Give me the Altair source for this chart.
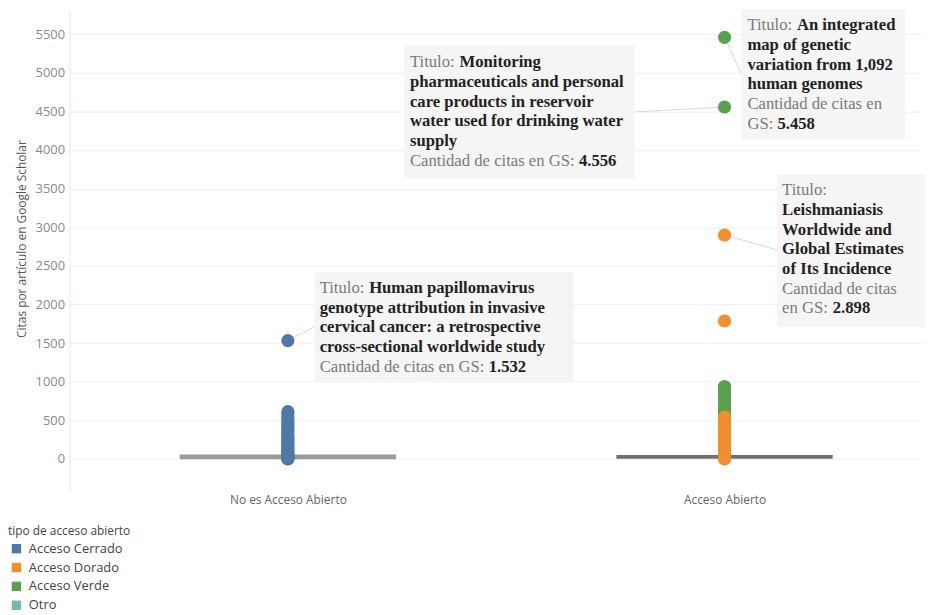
import altair as alt
import pandas as pd

# ---------------- data ----------------
categories = ["No es Acceso Abierto", "Acceso Abierto"]
access_types = ["Acceso Cerrado", "Acceso Dorado", "Acceso Verde", "Otro"]

cerrado_citas = [1532, 612, 580, 545, 510, 475, 445, 415, 385, 355, 325, 295, 268,
                 242, 216, 192, 170, 150, 130, 112, 96, 80, 66, 52, 40, 30, 20, 12, 6, 2, 0]
verde_citas = [5458, 4556, 938, 905, 872, 845, 805, 765, 725, 690, 650, 620, 590, 560]
dorado_citas = [2898, 1786, 540, 515, 490, 462, 432, 402, 372, 342, 312, 282, 252,
                222, 192, 166, 140, 116, 95, 75, 56, 40, 28, 18, 10, 4, 0]

median_citas = [26, 26]

ann_category = ["No es Acceso Abierto", "Acceso Abierto", "Acceso Abierto", "Acceso Abierto"]
ann_citas = [1532, 4556, 5458, 2898]
# each line: list of (text, kind) ; kind "l" = grey label, "v" = bold value
ann_lines = [
    [[("Titulo: ", "l"), ("Human papillomavirus", "v")],
     [("genotype attribution in invasive", "v")],
     [("cervical cancer: a retrospective", "v")],
     [("cross-sectional worldwide study", "v")],
     [("Cantidad de citas en GS: ", "l"), ("1.532", "v")]],
    [[("Titulo: ", "l"), ("Monitoring", "v")],
     [("pharmaceuticals and personal", "v")],
     [("care products in reservoir", "v")],
     [("water used for drinking water", "v")],
     [("supply", "v")],
     [("Cantidad de citas en GS: ", "l"), ("4.556", "v")]],
    [[("Titulo: ", "l"), ("An integrated", "v")],
     [("map of genetic", "v")],
     [("variation from 1,092", "v")],
     [("human genomes", "v")],
     [("Cantidad de citas en", "l")],
     [("GS: ", "l"), ("5.458", "v")]],
    [[("Titulo:", "l")],
     [("Leishmaniasis", "v")],
     [("Worldwide and", "v")],
     [("Global Estimates", "v")],
     [("of Its Incidence", "v")],
     [("Cantidad de citas", "l")],
     [("en GS: ", "l"), ("2.898", "v")]],
]

# ---------------- styles / layout ----------------
access_colors = ["#4e79a7", "#f28e2b", "#59a14f", "#76b7b2"]
SERIF = "Liberation Serif"
SANS = "Open Sans"
FS = 16.8
LINE_H = 19.8
prefix_width = {"Titulo: ": 49.9, "Cantidad de citas en GS: ": 170.3, "GS: ": 30.3, "en GS: ": 51.0}
ann_layout = [
    dict(box=(27, 288, -69, 41), text_x=32, first_dy=-53, link=(27, -14)),
    dict(box=(-323, -91, -62, 72), text_x=-317, first_dy=-45, link=(-91, 5)),
    dict(box=(17, 182, -28, 103), text_x=23, first_dy=-12, link=(17, 37)),
    dict(box=(53, 202, -61, 93), text_x=58, first_dy=-45, link=(53, 15)),
]

# ---------------- tables ----------------
rows = []
for tipo, cat, vals in [("Acceso Cerrado", categories[0], cerrado_citas),
                        ("Acceso Verde", categories[1], verde_citas),
                        ("Acceso Dorado", categories[1], dorado_citas)]:
    for v in vals:
        rows.append({"pos": categories.index(cat), "cat": cat, "tipo": tipo, "citas": v})
points_df = pd.DataFrame(rows)
points_df["orden"] = range(len(points_df))

median_df = pd.DataFrame({"pos": [0, 1], "citas": median_citas})

label_expr = " : ".join(
    f"datum.value == {i} ? '{c}'" for i, c in enumerate(categories)
) + " : ''"

X = alt.X("pos:Q",
          scale=alt.Scale(domain=[-0.5, 1.45], nice=False, zero=False),
          axis=alt.Axis(values=[0, 1], labelExpr=label_expr, title=None, grid=False,
                        ticks=False, domain=False, labelFont=SANS, labelFontSize=12,
                        labelColor="#666", labelPadding=4))
Y = alt.Y("citas:Q",
          scale=alt.Scale(domain=[-411, 5808], nice=False, zero=False),
          axis=alt.Axis(values=list(range(0, 5501, 500)), format="d",
                        title="Citas por artículo en Google Scholar",
                        grid=True, gridColor="#f0f0f0", ticks=False, domainColor="#e8e8e8",
                        labelFont=SANS, labelFontSize=13, labelColor="#8a8a8a", labelPadding=5,
                        titleFont=SANS, titleFontSize=12, titleColor="#555",
                        titleFontWeight="normal", titlePadding=7, titleY=230))

layers = []

# median reference lines
layers.append(alt.Chart(median_df).transform_filter("datum.pos == 0").mark_rule(
    color="#9a9a9a", strokeWidth=5, xOffset=-109, x2Offset=109
).encode(x=X, x2=alt.X2("pos"), y=Y))
layers.append(alt.Chart(median_df).transform_filter("datum.pos == 1").mark_rule(
    color="#6e6e6e", strokeWidth=4, xOffset=-109, x2Offset=109
).encode(x=X, x2=alt.X2("pos"), y=Y))

# annotations
for cat, val, lines, lay in zip(ann_category, ann_citas, ann_lines, ann_layout):
    adf = pd.DataFrame({"pos": [categories.index(cat)], "citas": [val]})
    base = alt.Chart(adf)
    bx0, bx1, by0, by1 = lay["box"]
    layers.append(base.mark_rule(color="#d8d8d8", strokeWidth=1,
                                 x2Offset=lay["link"][0], y2Offset=lay["link"][1])
                  .encode(x=X, x2=alt.X2("pos"), y=Y, y2=alt.Y2("citas")))
    layers.append(base.mark_rect(color="#f5f5f5", xOffset=bx0, x2Offset=bx1,
                                 yOffset=by0, y2Offset=by1)
                  .encode(x=X, x2=alt.X2("pos"), y=Y, y2=alt.Y2("citas")))
    for i, line in enumerate(lines):
        xoff = lay["text_x"]
        for text, kind in line:
            if kind == "l":
                m = base.mark_text(align="left", baseline="middle", font=SERIF, fontSize=FS,
                                   color="#7a7a7a", dx=xoff, dy=lay["first_dy"] + i * LINE_H)
            else:
                m = base.mark_text(align="left", baseline="middle", font=SERIF, fontSize=FS,
                                   fontWeight="bold", color="#222222",
                                   dx=xoff, dy=lay["first_dy"] + i * LINE_H)
            layers.append(m.encode(x=X, y=Y, text=alt.value(text)))
            xoff += prefix_width.get(text, 0)

# points
layers.append(alt.Chart(points_df).mark_circle(size=175, opacity=1).encode(
    x=X, y=Y,
    order=alt.Order("orden:Q"),
    color=alt.Color("tipo:N",
                    scale=alt.Scale(domain=access_types, range=access_colors),
                    legend=alt.Legend(title="tipo de acceso abierto", orient="none",
                                      legendX=-62, legendY=520, symbolType="square",
                                      symbolSize=90, symbolOffset=2, labelFont=SANS,
                                      labelFontSize=13, labelColor="#444", titleFont=SANS,
                                      titleFontSize=12, titleColor="#444",
                                      titleFontWeight="normal", titlePadding=4,
                                      rowPadding=5, labelOffset=6)),
))

chart = alt.layer(*layers).properties(
    width=858, height=484,
    background="white",
    autosize=alt.AutoSizeParams(type="none"),
    padding={"left": 62, "top": 0, "right": 8, "bottom": 123},
).configure_view(stroke=None)

chart.save("out.html", embed_options={"renderer": "svg", "actions": False})
